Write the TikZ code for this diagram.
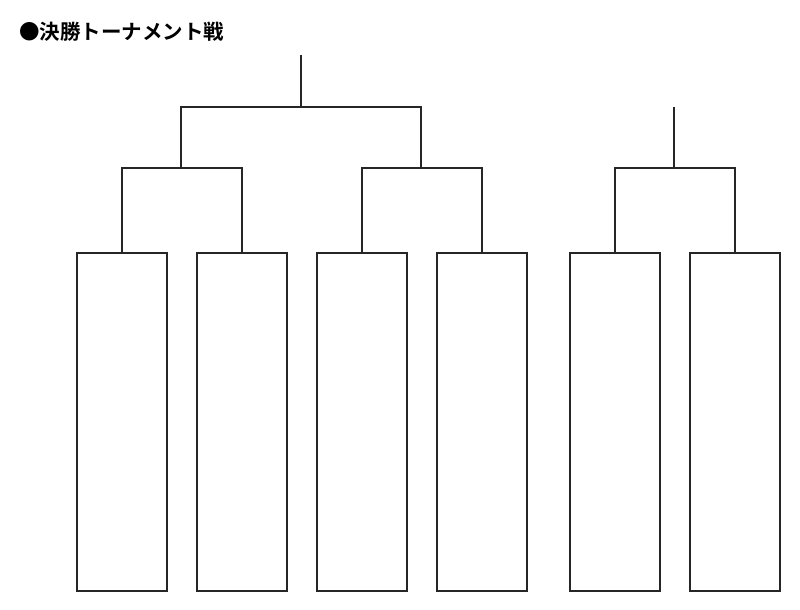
\documentclass[tikz,border=0pt]{standalone}
\usepackage{fontspec}
\newfontfamily\jpfont{Noto Sans CJK JP}[BoldFont={Noto Sans CJK JP Bold}]
\begin{document}
\begin{tikzpicture}[x=1pt,y=-1pt,
  player/.style={draw=black!85, line width=1.5pt, minimum width=90pt, minimum height=338pt, inner sep=0pt, anchor=north west},
  bracket/.style={draw=black!85, line width=1.5pt}]
\useasboundingbox (0,0) rectangle (800,610);
\node[anchor=west, inner sep=0pt, font=\jpfont\bfseries\fontsize{20.5}{22}\selectfont] (title) at (19,32) {●決勝トーナメント戦};
% boxes
\node[player] (p1) at (76,252) {};
\node[player] (p2) at (196,252) {};
\node[player] (p3) at (316,252) {};
\node[player] (p4) at (436,252) {};
\node[player] (p5) at (569,252) {};
\node[player] (p6) at (689,252) {};
% junction coordinates
\coordinate (a) at (181,168);
\coordinate (b) at (421,168);
\coordinate (c) at (614,168);
\coordinate (e) at (674,168);
\coordinate (d) at (301,107);
\coordinate (top1) at (301,55);
\coordinate (top2) at (674,107);
% first round
\draw[bracket] (p1.north) |- (a) -| (p2.north);
\draw[bracket] (p3.north) |- (b) -| (p4.north);
\draw[bracket] (p5.north) |- (c) -| (p6.north);
% second round
\draw[bracket] (a) |- (d) -| (b);
\draw[bracket] (d) -- (top1);
\draw[bracket] (e) -- (top2);
\end{tikzpicture}
\end{document}
